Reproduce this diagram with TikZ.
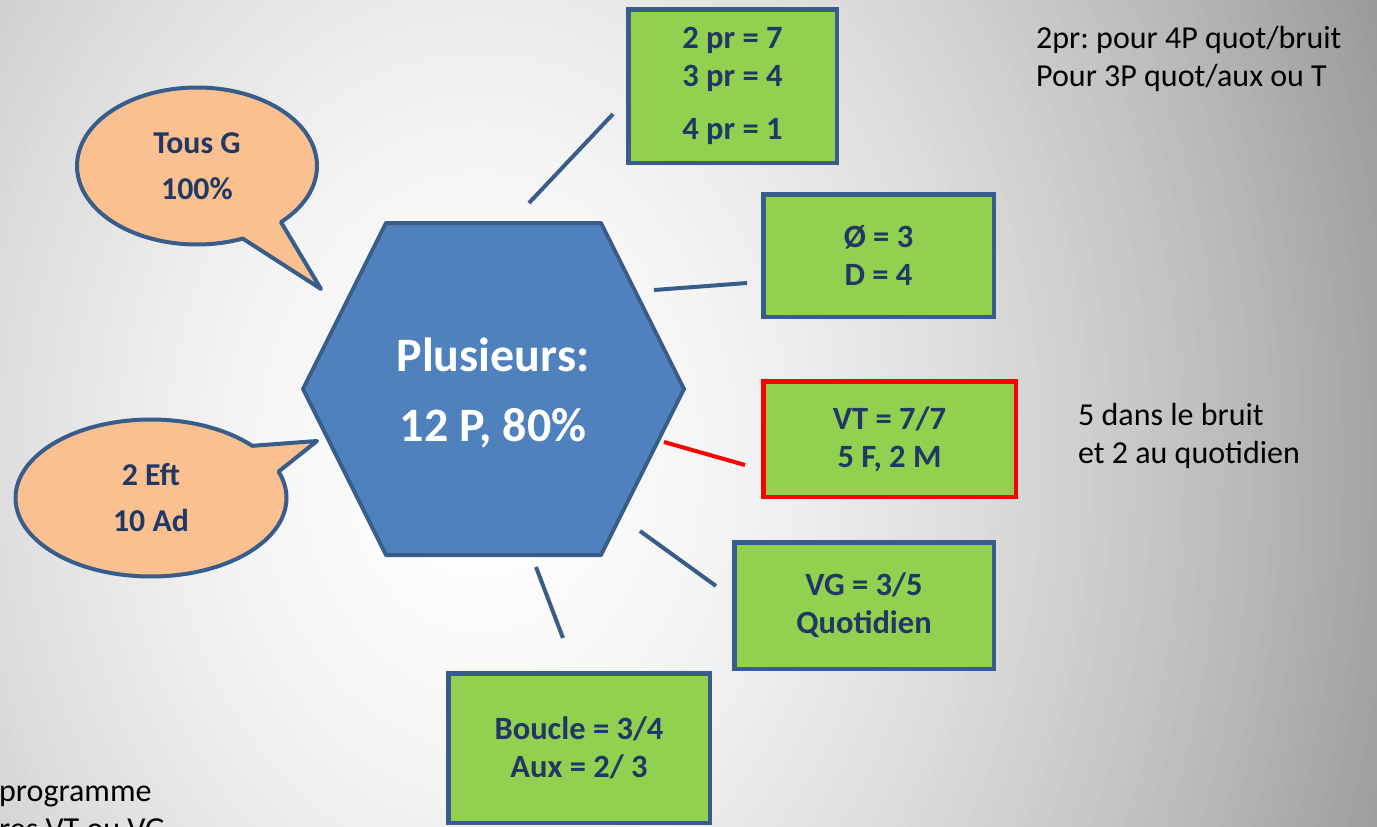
\documentclass[tikz,border=0pt]{standalone}
\usepackage{fontspec}
\setmainfont{Carlito}
\usepackage{xcolor}
\usetikzlibrary{shapes.callouts}
\frenchspacing

\definecolor{boxgreen}{RGB}{146,208,80}
\definecolor{edgeblue}{RGB}{56,93,138}
\definecolor{hexblue}{RGB}{79,129,189}
\definecolor{bubble}{RGB}{250,192,144}
\definecolor{inkblue}{RGB}{31,56,100}

\tikzset{
    infobox/.style={draw=edgeblue, line width=4.5pt, fill=boxgreen, text=inkblue, align=center, inner sep=0pt,
        font=\bfseries\fontsize{32.5}{38}\selectfont},
    bubblebox/.style={ellipse callout, draw=edgeblue, line width=4pt, fill=bubble, text=inkblue, align=center, inner sep=0pt,
        line join=round, callout pointer arc=22, font=\bfseries\fontsize{31.8}{46}\selectfont},
    link/.style={edgeblue, line width=4pt},
    note/.style={anchor=base west, align=left, inner sep=0pt, font=\fontsize{32}{38}\selectfont}
}

\begin{document}
\begin{tikzpicture}[x=1pt, y=-1pt]
                \useasboundingbox (0,0) rectangle (1377,827);
                \begin{scope}
                    \clip (0,0) rectangle (1377,827);
                    \foreach \r in {1000,990,...,0} {
                        \pgfmathsetmacro{\shadeval}{100-42*(\r/1000)^1.6}
                        \fill[white!\shadeval!black] (480,460) ellipse ({\r+2} and {1.3*\r+2});
                    }
                \end{scope}

                \draw[edgeblue, line width=4pt, fill=hexblue, line join=round] (303,389) -- (386,223) -- (601,223)
                    -- (684,389) -- (601,555) -- (386,555) -- cycle;
                \node[text=white, align=center, font=\bfseries\fontsize{48}{70}\selectfont] (plus) at (493,393) {Plusieurs:\\12 P, 80\%};

                \node[bubblebox, minimum width=240pt, minimum height=157pt, callout absolute pointer={(321,289)}] (tous) at (197,166) {Tous G\\100\%};
                \node[bubblebox, minimum width=271pt, minimum height=157pt, callout absolute pointer={(317,441)}] (eft) at (151,498) {2 Eft\\10 Ad};

                \node[infobox, minimum width=208.5pt, minimum height=153.5pt] (pr) at (732.5,86) {2 pr = 7\\3 pr = 4\\[15pt]4 pr = 1};
                \node[infobox, minimum width=230.5pt, minimum height=122.5pt] (diam) at (878.5,255.5) {Ø = 3\\D = 4};
                \node[infobox, draw=red, minimum width=252.5pt, minimum height=115.5pt] (vt) at (889.5,439) {VT = 7/7\\5 F, 2 M};
                \node[infobox, minimum width=259.5pt, minimum height=126.5pt] (vg) at (864,605.5) {VG = 3/5\\Quotidien};
                \node[infobox, minimum width=261.5pt, minimum height=149.5pt] (boucle) at (579,748) {Boucle = 3/4\\Aux = 2/ 3};

                \coordinate (pr-a) at (529,203);  \coordinate (pr-b) at (613,114);
                \coordinate (diam-a) at (654,290); \coordinate (diam-b) at (747,283);
                \coordinate (vt-a) at (664,442);  \coordinate (vt-b) at (745,465);
                \coordinate (vg-a) at (640,531);  \coordinate (vg-b) at (716,586);
                \coordinate (boucle-a) at (536,567); \coordinate (boucle-b) at (563,638);
                \draw[link] (pr-a) -- (pr-b);
                \draw[link] (diam-a) -- (diam-b);
                \draw[link, red] (vt-a) -- (vt-b);
                \draw[link] (vg-a) -- (vg-b);
                \draw[link] (boucle-a) -- (boucle-b);

                \node[note] (prnote) at (1036,86) {2pr: pour 4P quot/bruit\\Pour 3P quot/aux ou T};
                \node[note] (vtnote) at (1078,463) {5 dans le bruit\\et 2 au quotidien};
                \node[note] (prog) at (-1,839) {programme\\res VT ou VG};
            \end{tikzpicture}
\end{document}
